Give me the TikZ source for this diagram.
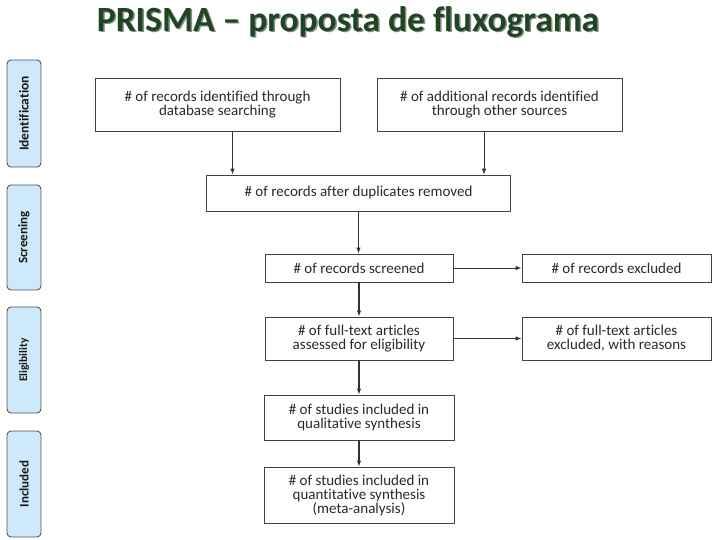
\documentclass[tikz,border=0pt]{standalone}
\usepackage{fontspec}
\setmainfont{Carlito}[Ligatures=NoCommon]
\usetikzlibrary{arrows.meta,calc}
\definecolor{titlegreen}{HTML}{1E4620}
\definecolor{tabfill}{HTML}{CDE9FB}
\definecolor{tabdraw}{HTML}{4A5560}
\definecolor{boxtext}{HTML}{2A2A2A}
\tikzset{
  box/.style={draw=black!75, line width=0.8pt, fill=white, align=center, text=boxtext, font=\fontsize{15}{14}\selectfont, inner sep=2pt},
  tab/.style={draw=tabdraw, line width=0.9pt, fill=tabfill, rounded corners=4pt, minimum width=34pt},
  tabtext/.style={rotate=90, text=black!90},
  arr/.style={draw=black!80, line width=0.9pt, -{Latex[length=6pt,width=4.5pt]}},
  arrthick/.style={arr, line width=1.3pt}
}
\begin{document}
\begin{tikzpicture}[x=1pt,y=-1pt]
\useasboundingbox (0,0) rectangle (720,540);
% title
\node[font=\bfseries\fontsize{35.5}{38}\selectfont, text=black!45] (tshadow) at (349.5,23.5) {PRISMA – proposta de fluxograma};
\node[font=\bfseries\fontsize{35.5}{38}\selectfont, text=titlegreen] (title) at (348,22) {PRISMA – proposta de fluxograma};
% side tabs
\node[tab, minimum height=107pt] (tid) at (24,113.5) {};
\node[tabtext, font=\bfseries\fontsize{13.5}{13.5}\selectfont] at (tid.center) {Identification};
\node[tab, minimum height=105pt] (tsc) at (24,237.5) {};
\node[tabtext, font=\bfseries\fontsize{13}{13}\selectfont] at (tsc.center) {Screening};
\node[tab, minimum height=106pt] (tel) at (24,360) {};
\node[tabtext, font=\bfseries\fontsize{11.5}{11.5}\selectfont] at (tel.center) {Eligibility};
\node[tab, minimum height=106pt] (tin) at (24,484) {};
\node[tabtext, font=\bfseries\fontsize{13}{13}\selectfont] at (tin.center) {Included};
% boxes
\node[box, minimum width=245pt, minimum height=53pt] (b1) at (217.5,104.5) {\# of records identified through\\database searching};
\node[box, minimum width=245pt, minimum height=53pt] (b2) at (499.5,104.5) {\# of additional records identified\\through other sources};
\node[box, minimum width=304pt, minimum height=36pt] (dup) at (358.5,193) {\# of records after duplicates removed};
\node[box, minimum width=188pt, minimum height=28pt] (scr) at (359,268) {\# of records screened};
\node[box, minimum width=189pt, minimum height=28pt] (exc) at (616.5,268) {\# of records excluded};
\node[box, minimum width=188pt, minimum height=43pt] (ft) at (359,338.5) {\# of full-text articles\\assessed for eligibility};
\node[box, minimum width=189pt, minimum height=43pt] (ftx) at (616.5,338.5) {\# of full-text articles\\excluded, with reasons};
\node[box, minimum width=190pt, minimum height=45pt] (qual) at (359,417.5) {\# of studies included in\\qualitative synthesis};
\node[box, minimum width=190pt, minimum height=56pt] (quant) at (359,495) {\# of studies included in\\quantitative synthesis\\(meta-analysis)};
% arrows
\coordinate (a1) at ($(b1.south)+(15,0)$);
\coordinate (a2) at ($(b2.south)+(-15.5,0)$);
\draw[arr] (a1) -- (a1 |- dup.north);
\draw[arr] (a2) -- (a2 |- dup.north);
\draw[arrthick] (dup.south) -- (dup.south |- scr.north);
\draw[arrthick] (scr.south) -- (ft.north);
\draw[arrthick] (ft.south) -- (qual.north);
\draw[arrthick] (qual.south) -- (quant.north);
\draw[arr] (scr.east) -- (exc.west);
\draw[arr] (ft.east) -- (ftx.west);
\end{tikzpicture}
\end{document}
